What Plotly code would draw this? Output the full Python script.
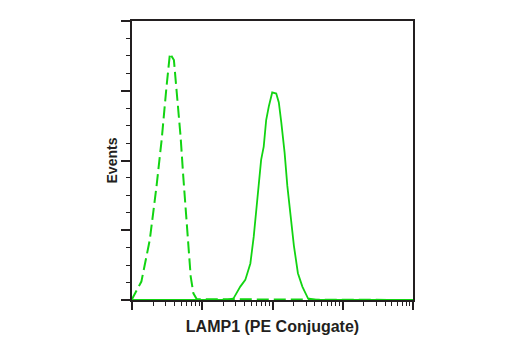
import plotly.graph_objects as go

# LAMP1 (PE conjugate) flow cytometry histograms: isotype control (dashed) vs. stained (solid)
control_intensity = [1, 10, 13.6, 17.9, 22.3, 26.4, 31.0, 34.7, 39.5, 44.2, 49.2, 53.7, 58.7, 63.4, 68.5, 74.8, 83.6, 100000]
control_events = [0, 0.3, 6.6, 21.5, 40.6, 57.3, 76.5, 88.4, 86.0, 72.9, 58.5, 44.2, 29.9, 17.9, 8.4, 2.4, 0.3, 0]

lamp1_intensity = [10, 224, 279, 348, 410, 484, 540, 590, 637, 689, 750, 813, 885, 991, 1130,
                   1230, 1334, 1486, 1626, 1811, 2018, 2301, 2661, 3199, 4130, 100000]
lamp1_events = [0, 0, 0.6, 4.8, 7.2, 13.1, 22.6, 33.4, 43.0, 50.2, 55.0, 64.5, 69.3, 74.4, 74.0,
                70.8, 63.7, 52.9, 40.9, 30.2, 19.4, 9.6, 4.8, 0.6, 0, 0]

x_major = [10, 100, 1000, 10000, 100000]
x_minor = [m * d for d in [10, 100, 1000, 10000] for m in range(2, 10)]

green = "#12d412"
ink = "#231f20"
x_title_font = dict(family="Liberation Sans, Arial, sans-serif", size=16, color=ink)
y_title_font = dict(family="Liberation Sans, Arial, sans-serif", size=14, color=ink)

fig = go.Figure()
fig.add_trace(go.Scatter(x=lamp1_intensity, y=lamp1_events, mode="lines",
                         line=dict(color=green, width=1.8), hoverinfo="skip"))
fig.add_trace(go.Scatter(x=control_intensity, y=control_events, mode="lines",
                         line=dict(color=green, width=2, dash="12px,5px"), hoverinfo="skip"))

fig.update_layout(
    width=520, height=350,
    margin=dict(l=132, r=107, t=21, b=50),
    paper_bgcolor="white", plot_bgcolor="white",
    showlegend=False,
    xaxis=dict(
        type="log", range=[1, 5],
        showline=True, linecolor=ink, linewidth=2, mirror=True,
        ticks="outside", tickmode="array", tickvals=x_major, ticklen=8, tickwidth=2,
        tickcolor=ink, showticklabels=False, showgrid=False, zeroline=False,
        minor=dict(tickmode="array", tickvals=x_minor, ticks="outside", ticklen=4,
                   tickwidth=1, tickcolor=ink, showgrid=False),
        title=dict(text="<b>LAMP1 (PE Conjugate)</b>", font=x_title_font, standoff=12),
        layer="below traces",
    ),
    yaxis=dict(
        range=[0, 100],
        showline=True, linecolor=ink, linewidth=2, mirror=True,
        ticks="outside", tickmode="linear", tick0=0, dtick=25, ticklen=9, tickwidth=2,
        tickcolor=ink, showticklabels=False, showgrid=False, zeroline=False,
        minor=dict(dtick=6.25, ticks="outside", ticklen=4, tickwidth=1,
                   tickcolor=ink, showgrid=False),
        title=dict(text="<b>Events</b>", font=y_title_font, standoff=0),
        layer="below traces",
    ),
)

fig.write_html("out.html")
